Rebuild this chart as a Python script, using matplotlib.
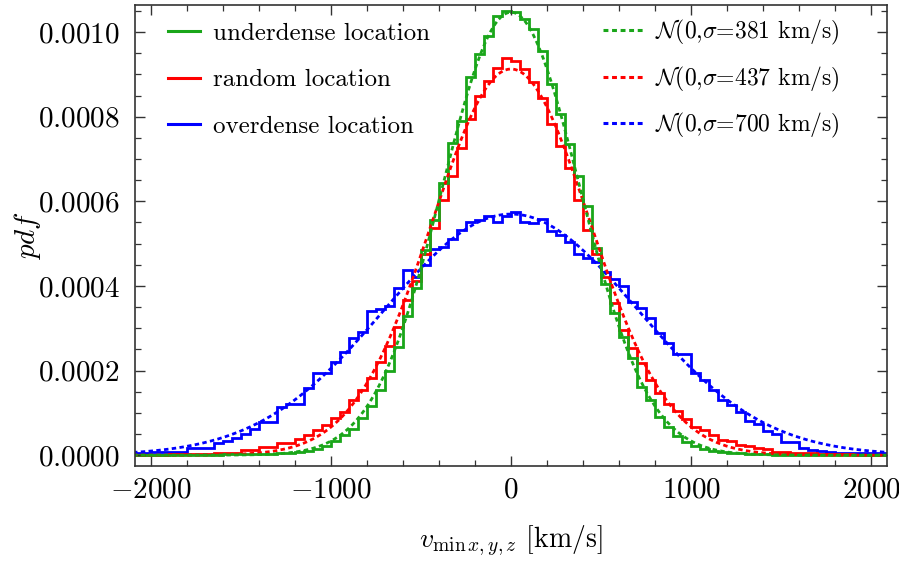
import numpy as np
import matplotlib
matplotlib.use("Agg")
import matplotlib.pyplot as plt
from matplotlib.lines import Line2D
from matplotlib.ticker import MultipleLocator, FuncFormatter

plt.rcParams['font.family'] = 'cmr10'
plt.rcParams['mathtext.fontset'] = 'cm'
plt.rcParams['axes.unicode_minus'] = False

# histogram bins: 50 km/s wide, from -2100 to 2100
bin_lo, bin_hi, bin_w = -2100, 2100, 50

# pdf values in units of 1e-4 (bins left -> right)
green_pdf = [0.01, 0.01, 0.01, 0.01, 0.01, 0.01, 0.01, 0.01, 0.01, 0.01,
             0.02, 0.02, 0.02, 0.02, 0.03, 0.03, 0.04, 0.05, 0.07, 0.10,
             0.14, 0.22, 0.33, 0.47, 0.62, 0.88, 1.15, 1.55, 2.00, 2.55,
             3.30, 3.95, 4.85, 5.57, 6.44, 7.39, 7.90, 8.93, 9.48, 9.91,
             10.39, 10.50,
             10.47, 10.31, 10.07, 9.56, 8.77, 8.06, 7.35, 6.60, 5.88, 4.90,
             4.05, 3.37, 2.80, 2.30, 1.62, 1.30, 0.90, 0.66, 0.45, 0.32,
             0.22, 0.14, 0.10, 0.07, 0.05, 0.04, 0.03, 0.02, 0.02, 0.01,
             0.01, 0.01, 0.01, 0.01, 0.01, 0.01, 0.01, 0.01, 0.01, 0.01,
             0.01, 0.01]

red_pdf = [0.01, 0.01, 0.01, 0.01, 0.02, 0.02, 0.03, 0.03, 0.03, 0.04,
           0.06, 0.06, 0.12, 0.12, 0.20, 0.20, 0.28, 0.28, 0.37, 0.47,
           0.59, 0.71, 0.87, 1.03, 1.30, 1.54, 1.82, 2.21, 2.57, 3.04,
           3.67, 4.11, 4.75, 5.36, 6.04, 6.59, 7.27, 7.94, 8.49, 8.85,
           9.16, 9.40,
           9.32, 9.12, 8.81, 8.45, 7.82, 7.31, 6.79, 6.04, 5.33, 4.75,
           4.20, 3.59, 2.96, 2.53, 2.17, 1.78, 1.46, 1.20, 1.05, 0.85,
           0.67, 0.60, 0.47, 0.36, 0.34, 0.24, 0.22, 0.16, 0.14, 0.08,
           0.08, 0.06, 0.04, 0.04, 0.03, 0.02, 0.02, 0.02, 0.01, 0.01,
           0.01, 0.01]

blue_pdf = [0.04, 0.04, 0.08, 0.08, 0.08, 0.08, 0.16, 0.16, 0.16, 0.28,
            0.33, 0.40, 0.50, 0.62, 0.78, 0.79, 1.14, 1.22, 1.22, 1.59,
            1.94, 1.94, 2.21, 2.43, 2.77, 2.90, 3.40, 3.45, 3.53, 3.95,
            4.38, 4.20, 4.50, 4.88, 4.92, 5.12, 5.32, 5.50, 5.57, 5.65,
            5.50, 5.66,
            5.74, 5.50, 5.48, 5.58, 5.30, 5.20, 5.04, 4.76, 4.65, 4.57,
            4.33, 4.17, 3.99, 3.61, 3.47, 3.25, 2.89, 2.65, 2.40, 2.40,
            1.95, 1.78, 1.54, 1.30, 1.18, 1.02, 0.80, 0.74, 0.58, 0.50,
            0.32, 0.30, 0.16, 0.12, 0.10, 0.08, 0.06, 0.06, 0.05, 0.04,
            0.04, 0.04]

# fitted normal widths (km/s), as in the legend
sigmas = [381, 437, 700]
labels = ["underdense location", "random location", "overdense location"]
colors = ["#1aa61a", "#ff0000", "#0000ff"]

edges = np.arange(bin_lo, bin_hi + bin_w, bin_w)
series = [green_pdf, red_pdf, blue_pdf]

fig = plt.figure(figsize=(8.99, 5.65), dpi=100)
ax = fig.add_axes([0.150, 0.175, 0.837, 0.816])

for vals, c in zip(series[::-1], colors[::-1]):
    ax.stairs(np.array(vals) * 1e-4, edges, baseline=None, color=c, lw=2.0)

xs = np.linspace(bin_lo, bin_hi, 600)
for s, c in zip(sigmas[::-1], colors[::-1]):
    ys = np.exp(-xs**2 / (2 * s**2)) / (s * np.sqrt(2 * np.pi))
    ax.plot(xs, ys, color=c, lw=2.0, ls=(0, (1.6, 1.2)))

ax.set_xlim(-2090, 2090)
ax.set_ylim(-0.000026, 0.001064)

ax.xaxis.set_major_locator(MultipleLocator(1000))
ax.xaxis.set_minor_locator(MultipleLocator(200))
ax.yaxis.set_major_locator(MultipleLocator(0.0002))
ax.yaxis.set_minor_locator(MultipleLocator(0.00005))
ax.xaxis.set_major_formatter(FuncFormatter(lambda v, p: f"${v:.0f}$"))
ax.yaxis.set_major_formatter(FuncFormatter(lambda v, p: f"${v:.4f}$"))
ax.tick_params(which='both', direction='in', top=True, right=True,
               labelsize=21, color='#333333')
ax.tick_params(which='major', length=7, width=1.0)
ax.tick_params(axis='y', which='major', pad=11)
ax.tick_params(axis='x', which='major', pad=8)
ax.tick_params(which='minor', length=4, width=0.9)
for sp in ax.spines.values():
    sp.set_linewidth(1.2)
    sp.set_color('#333333')

ax.set_xlabel(r"$v_{\min\,x,y,z}$ [km/s]", fontsize=20, labelpad=14)
ax.set_ylabel(r"$pdf$", fontsize=21)
ax.yaxis.set_label_coords(-0.122, 0.5)

solid = [Line2D([], [], color=c, lw=2.2) for c in colors]
leg1 = ax.legend(solid, labels, loc='upper left', frameon=False, fontsize=18,
                 handlelength=1.3, handletextpad=0.5, labelspacing=0.97,
                 bbox_to_anchor=(0.014, 1.012))
ax.add_artist(leg1)

norm_labels = [r"$\mathcal{N}$(0,$\sigma$=%d km/s)" % s for s in sigmas]
dotted = [Line2D([], [], color=c, lw=2.2, ls=(0, (1.6, 1.2))) for c in colors]
ax.legend(dotted, norm_labels, loc='upper right', frameon=False, fontsize=17,
          handlelength=1.7, handletextpad=0.5, labelspacing=0.74,
          bbox_to_anchor=(0.965, 1.018))

fig.savefig("out.png", dpi=100)
